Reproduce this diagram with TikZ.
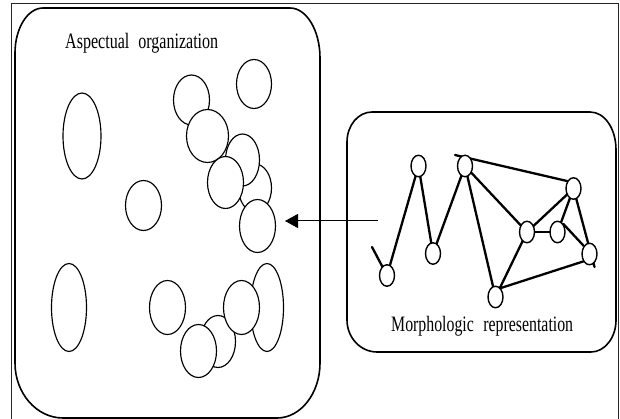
\documentclass[tikz,border=0pt]{standalone}
\usepackage{graphicx}
\usepackage{fontspec}
\setmainfont{Liberation Serif}
\usetikzlibrary{shapes.geometric,arrows.meta,backgrounds}
\tikzset{
  frame/.style={draw=black!85, line width=0.8pt},
  panel/.style={draw, line width=1.6pt, line join=round},
  blob/.style 2 args={ellipse, draw, fill=white, line width=1.15pt,
    inner sep=0pt, minimum width=#1, minimum height=#2},
  gnode/.style={ellipse, draw, fill=white, line width=1.4pt,
    inner sep=0pt, minimum width=15pt, minimum height=21.5pt},
  link/.style={line width=2.3pt, line cap=round},
  caption/.style={anchor=base west, inner sep=0pt,
    font=\fontsize{22}{26}\selectfont},
  pointer/.style={line width=1pt, -{Triangle[length=13pt,width=14pt]}}
}
\begin{document}
\begin{tikzpicture}[x=1pt,y=-1pt]
\useasboundingbox (0,0) rectangle (620,419);

% outer frame
\draw[frame] (11,3) rectangle (618,421);

% left panel
\draw[panel] (43,8) -- (290,8)
  .. controls (306.5,8) and (320,30.5) .. (320,58) -- (320,363)
  .. controls (320,393.3) and (300.7,418) .. (277,418) -- (63,418)
  .. controls (36.6,418) and (15,393.3) .. (15,363) -- (15,53)
  .. controls (15,28.3) and (27.6,8) .. (43,8) -- cycle;

% right panel
\draw[panel] (372,112) -- (590,112)
  .. controls (604.9,112) and (616,128.9) .. (616,150) -- (616,320)
  .. controls (616,337.6) and (604.8,352) .. (591,352) -- (377,352)
  .. controls (360.5,352) and (347,337.6) .. (347,320) -- (347,142)
  .. controls (347,125.4) and (358.2,112) .. (372,112) -- cycle;

\node[caption] (lefttitle) at (65,49)
  {\scalebox{0.73}[1]{Aspectual\hspace{0.55em}organization}};
\node[caption] (righttitle) at (391,331)
  {\scalebox{0.72}[1]{Morphologic\hspace{0.6em}representation}};

% aspectual units, upper group
\node[blob={38pt}{86pt}] (e1) at (82,136) {};
\node[blob={35pt}{49pt}] (e2) at (254,84) {};
\node[blob={36pt}{50pt}] (c1) at (191.5,100) {};
\node[blob={33pt}{48pt}] (c5) at (255,188) {};
\node[blob={34pt}{52pt}] (c3) at (242.5,160) {};
\node[blob={42pt}{53pt}] (c2) at (207.5,136) {};
\node[blob={36pt}{52pt}] (c4) at (225.5,182.5) {};
\node[blob={36pt}{53pt}] (c6) at (257.5,226) {};
\node[blob={36pt}{50pt}] (c7) at (143.5,205.5) {};

% aspectual units, lower group
\node[blob={35pt}{88pt}] (e3) at (69,307.5) {};
\node[blob={36pt}{54pt}] (c8) at (167.5,307.5) {};
\node[blob={33pt}{88pt}] (e4) at (267,307.5) {};
\node[blob={35pt}{52pt}] (c9) at (218,341.5) {};
\node[blob={36pt}{54pt}] (c10) at (241.5,307.5) {};
\node[blob={36pt}{53pt}] (c11) at (198.5,351) {};

% morphologic graph
\node[gnode] (n1) at (387,275.5) {};
\node[gnode] (n2) at (418.5,166) {};
\node[gnode] (n3) at (433,253.5) {};
\node[gnode] (n4) at (465,166) {};
\node[gnode] (n5) at (495.5,297) {};
\node[gnode] (n6) at (527,232) {};
\node[gnode] (n7) at (557.5,232) {};
\node[gnode] (n8) at (589.5,254) {};
\node[gnode] (n9) at (573.5,188.5) {};

\coordinate (s1) at (372,247);
\coordinate (s2) at (455,155);
\coordinate (s3) at (594.5,267);

\begin{pgfonlayer}{background}
  \draw[link] (s1) -- (n1.center);
  \draw[link] (n1.center) -- (n2.center);
  \draw[link] (n2.center) -- (n3.center);
  \draw[link] (n3.center) -- (n4.center);
  \draw[link] (s2) -- (n9.130);
  \draw[link] (n4.center) -- (n6.center);
  \draw[link] (n4.center) -- (n5.center);
  \draw[link] (n6.center) -- (n7.center);
  \draw[link] (n6.center) -- (n9.center);
  \draw[link] (n7.center) -- (n9.center);
  \draw[link] (n9.center) -- (s3);
  \draw[link] (n7.north east) -- (n8.north west);
  \draw[link] (n5.center) -- (n6.center);
  \draw[link] (n5.60) -- (n8.230);
\end{pgfonlayer}

% mapping arrow
\coordinate (a0) at (378,221);
\coordinate (a1) at (285,221);
\draw[pointer] (a0) -- (a1);
\end{tikzpicture}
\end{document}
